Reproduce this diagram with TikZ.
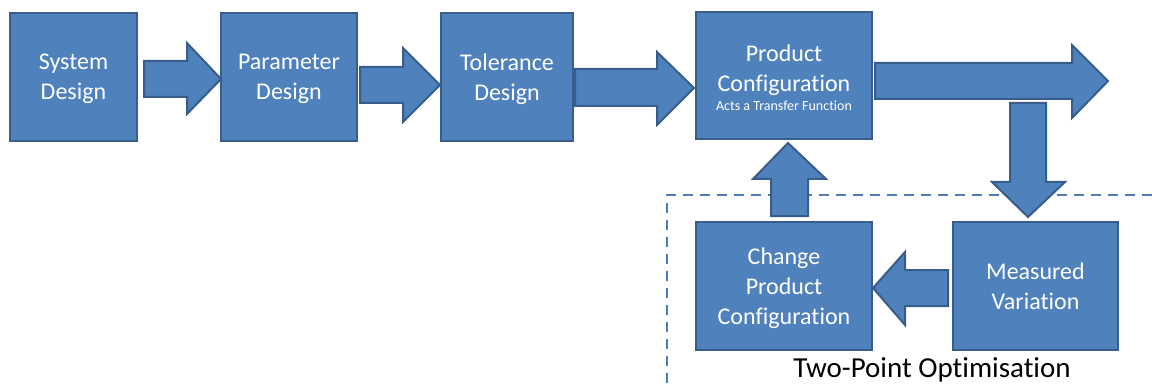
\documentclass[tikz,border=0pt]{standalone}
\usepackage{fontspec}
\setmainfont{Carlito}[Ligatures=NoCommon]
\definecolor{boxfill}{HTML}{4F81BD}
\definecolor{boxline}{HTML}{385D8A}
\definecolor{dashblue}{HTML}{4A7EBB}
\begin{document}
\begin{tikzpicture}[x=1pt,y=-1pt,
  box/.style={draw=boxline, fill=boxfill, line width=2.5pt, text=white, align=center,
    inner sep=0pt, text depth=0pt, font=\fontsize{24}{30}\selectfont},
  boxtext/.style={text=white, align=center, inner sep=0pt, text depth=0pt, font=\fontsize{24}{30}\selectfont},
  barrow/.style={draw=boxline, fill=boxfill, line width=2pt, line join=miter},
  dashline/.style={draw=dashblue, line width=2pt, dash pattern=on 10pt off 7pt},
  caption/.style={text=black, inner sep=0pt, font=\fontsize{29}{32}\selectfont}]
\useasboundingbox (0,0) rectangle (1152,385);

% dashed frame of the optimisation loop (drawn below arrows)
\coordinate (dcorner) at (667,195);
\coordinate (dright) at (1152,195);
\coordinate (dbottom) at (667,385);
\draw[dashline] (dright) -- (dcorner) -- (dbottom);

% boxes
\node[box, minimum width=127pt, minimum height=128pt] (sys) at (73.5,77) {System\\Design};
\node[box, minimum width=136pt, minimum height=128pt] (par) at (289,77) {Parameter\\Design};
\node[box, minimum width=132pt, minimum height=128pt] (tol) at (507,77) {Tolerance\\Design};
\node[box, minimum width=176pt, minimum height=127pt] (prod) at (784,75.5) {};
\node[boxtext] (prodtxt) at (784,68) {Product\\Configuration};
\node[text=white, inner sep=0pt, font=\fontsize{14}{16}\selectfont] (prodsub) at (784,106) {Acts a Transfer Function};
\node[box, minimum width=176pt, minimum height=128pt] (chg) at (784,286) {Change\\Product\\Configuration};
\node[box, minimum width=165pt, minimum height=128pt] (meas) at (1035.5,286) {Measured\\Variation};

% block arrows
\draw[barrow] (144,61) -- (187,61) -- (187,43) -- (221,79) -- (187,114) -- (187,97) -- (144,97) -- cycle;
\draw[barrow] (360,67) -- (403,67) -- (403,48) -- (440,85) -- (403,122) -- (403,103) -- (360,103) -- cycle;
\draw[barrow] (575,69) -- (657,69) -- (657,52) -- (694,88) -- (657,125) -- (657,106) -- (575,106) -- cycle;
\draw[barrow] (875,63) -- (1072,63) -- (1072,45) -- (1108,81) -- (1072,118) -- (1072,99) -- (875,99) -- cycle;
\draw[barrow] (1010,103) -- (1046,103) -- (1046,182) -- (1065,182) -- (1028,217) -- (992,182) -- (1010,182) -- cycle;
\draw[barrow] (948,270) -- (905,270) -- (905,252) -- (873,288) -- (905,325) -- (905,306) -- (948,306) -- cycle;
\draw[barrow] (771,216) -- (771,179) -- (753,179) -- (788,143) -- (826,179) -- (808,179) -- (808,216) -- cycle;

% caption
\node[caption] (cap) at (932,370) {Two-Point Optimisation};
\end{tikzpicture}
\end{document}
